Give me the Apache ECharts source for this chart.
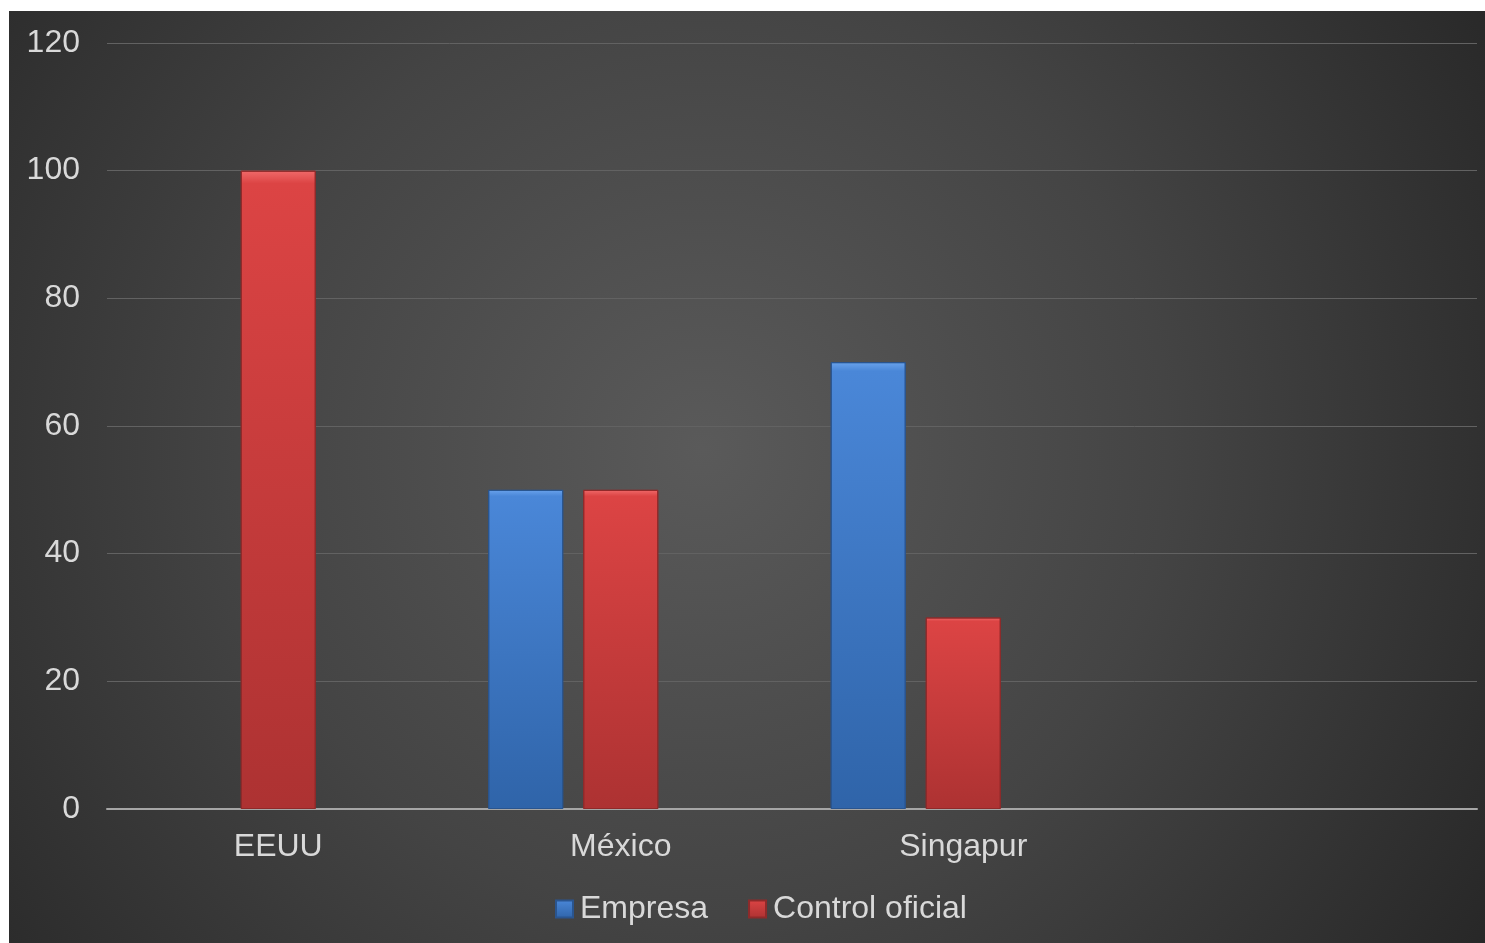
<!DOCTYPE html>
<html>
<head>
<meta charset="utf-8">
<script src="https://cdn.jsdelivr.net/npm/echarts@6/dist/echarts.min.js"></script>
<style>
  html, body { margin: 0; padding: 0; background: #fff; }
  #chart { position: absolute; left: 9px; top: 11px; width: 1476px; height: 932px; }
</style>
</head>
<body>
<div id="chart"></div>
<script>
const categories = ['EEUU', 'México', 'Singapur', '']
const empresa = [null, 50, 70, null]
const controlOficial = [100, 50, 30, null]
const spare = [null, null, null, null]
const yTicks = { min: 0, max: 120, interval: 20 }

// relleno de barra con degradado vertical
function barFill(top, mid, bottom) {
  return new echarts.graphic.LinearGradient(0, 0, 0, 1, [
    { offset: 0, color: top },
    { offset: 0.02, color: mid },
    { offset: 1, color: bottom }
  ])
}

const chart = echarts.init(document.getElementById('chart'))
const option = {
  backgroundColor: new echarts.graphic.RadialGradient(0.47, 0.47, 1.0, [
    { offset: 0, color: '#5a5a5a' },
    { offset: 0.5, color: '#444444' },
    { offset: 1, color: '#272727' }
  ]),
  textStyle: { fontFamily: 'Liberation Sans, Arial, sans-serif' },
  grid: { left: 98, right: 8, top: 32, bottom: 134 },
  legend: {
    data: ['Empresa', 'Control oficial'],
    bottom: 13,
    left: 541,
    icon: 'rect',
    itemWidth: 17,
    itemHeight: 17,
    itemGap: 40,
    textStyle: { color: '#d9d9d9', fontSize: 32, padding: [0, 0, 0, 2] }
  },
  xAxis: {
    type: 'category',
    data: categories,
    axisTick: { show: false },
    axisLine: { lineStyle: { color: '#a6a6a6', width: 2 } },
    axisLabel: { color: '#d9d9d9', fontSize: 32, margin: 22 }
  },
  yAxis: {
    type: 'value',
    min: yTicks.min,
    max: yTicks.max,
    interval: yTicks.interval,
    axisLine: { show: false },
    axisTick: { show: false },
    axisLabel: { color: '#d9d9d9', fontSize: 32, margin: 27 },
    splitLine: { lineStyle: { color: '#626262', width: 1 } }
  },
  series: [
    {
      name: 'Empresa',
      type: 'bar',
      barWidth: 75,
      barGap: '26.7%',
      data: empresa,
      itemStyle: {
        color: barFill('#6aa3ec', '#4a87d8', '#2f64a9'),
        borderColor: '#2a558f',
        borderWidth: 1
      }
    },
    {
      name: 'Control oficial',
      type: 'bar',
      barWidth: 75,
      barGap: '26.7%',
      data: controlOficial,
      itemStyle: {
        color: barFill('#f06a6a', '#dc4444', '#ad3232'),
        borderColor: '#8f2a2a',
        borderWidth: 1
      }
    },
    {
      name: 'hueco',
      type: 'bar',
      barWidth: 75,
      barGap: '26.7%',
      data: spare,
      silent: true
    }
  ]
}
chart.setOption(option)
</script>
</body>
</html>
